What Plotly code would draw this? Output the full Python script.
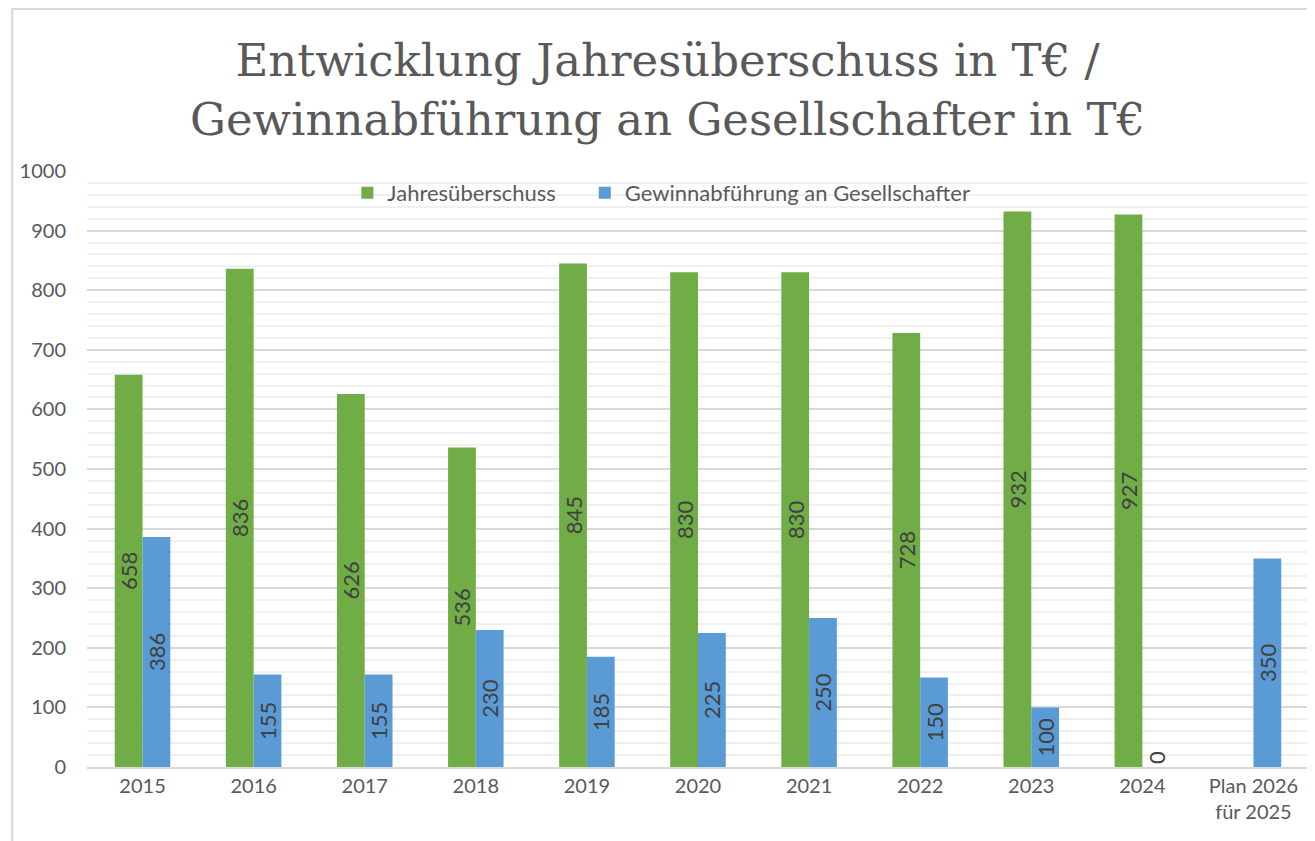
import plotly.graph_objects as go

categories = ["2015", "2016", "2017", "2018", "2019", "2020", "2021", "2022", "2023", "2024", "Plan 2026<br>für 2025"]
jahresueberschuss = [658, 836, 626, 536, 845, 830, 830, 728, 932, 927, None]
gewinnabfuehrung = [386, 155, 155, 230, 185, 225, 250, 150, 100, 0, 350]
y_ticks = [0, 100, 200, 300, 400, 500, 600, 700, 800, 900, 1000]

FONT = "Lato, Open Sans, sans-serif"
label_font = dict(family=FONT, size=22, color="#404040")

def positions(vals):
    return ["outside" if (v is not None and v == 0) else "inside" for v in vals]

def texts(vals):
    return ["" if v is None else str(v) for v in vals]

fig = go.Figure()
fig.add_trace(go.Bar(
    name="Jahresüberschuss", x=categories, y=jahresueberschuss,
    marker=dict(color="#70ad47", line=dict(width=0)),
    text=texts(jahresueberschuss), textposition=positions(jahresueberschuss),
    textangle=-90, insidetextanchor="middle", textfont=label_font,
    outsidetextfont=label_font, insidetextfont=label_font, cliponaxis=False,
    legend="legend", showlegend=True,
))
fig.add_trace(go.Bar(
    name="Gewinnabführung an Gesellschafter", x=categories, y=gewinnabfuehrung,
    marker=dict(color="#5b9bd5", line=dict(width=0)),
    text=texts(gewinnabfuehrung), textposition=positions(gewinnabfuehrung),
    textangle=-90, insidetextanchor="middle", textfont=label_font,
    outsidetextfont=label_font, insidetextfont=label_font, cliponaxis=False,
    legend="legend2", showlegend=True,
))

# page is rendered with an 8px body offset
OFF = 8
W, H = 1315, 841
ml, mr, mt, mb = 84 - OFF, 14, 171 - OFF, 841 - (767 - OFF)
pw, ph = W - ml - mr, H - mt - mb

def px_to_paper_x(px):
    return (px - OFF - ml) / pw

def px_to_paper_y(py):
    return (H - mb - (py - OFF)) / ph

legend_style = dict(
    orientation="h", xanchor="left", y=px_to_paper_y(193), yanchor="middle",
    font=dict(family=FONT, size=22, color="#595959"),
    bgcolor="rgba(255,255,255,0)", visible=True,
)

fig.update_layout(
    width=W, height=H, showlegend=True,
    margin=dict(l=ml, r=mr, t=mt, b=mb, pad=0),
    paper_bgcolor="white", plot_bgcolor="white",
    barmode="group", bargap=0.5, bargroupgap=0,
    uniformtext=dict(minsize=22, mode="show"),
    title=dict(
        text="Entwicklung Jahresüberschuss in T€ /<br>Gewinnabführung an Gesellschafter in T€",
        x=px_to_paper_x(666), xref="paper", xanchor="center",
        y=(H - (76 - OFF)) / H, yref="container", yanchor="middle",
        font=dict(family="DejaVu Serif, serif", size=45, color="#595959"),
    ),
    legend=dict(x=px_to_paper_x(345), **legend_style),
    legend2=dict(x=px_to_paper_x(583), **legend_style),
    xaxis=dict(
        showgrid=False, showline=True, linecolor="#d9d9d9", linewidth=2,
        ticks="", tickfont=dict(family=FONT, size=20, color="#595959"),
    ),
    yaxis=dict(
        range=[0, 1000], tickvals=y_ticks, showline=False, zeroline=False,
        gridcolor="#d9d9d9", gridwidth=2,
        minor=dict(dtick=20, showgrid=True, gridcolor="#f0f0f0", gridwidth=2),
        ticks="", ticklabelstandoff=20,
        tickfont=dict(family=FONT, size=20, color="#595959"),
    ),
    shapes=[dict(
        type="rect", xref="paper", yref="paper",
        x0=px_to_paper_x(9), x1=px_to_paper_x(1308),
        y0=px_to_paper_y(860), y1=px_to_paper_y(9),
        line=dict(color="#d9d9d9", width=2), fillcolor="rgba(0,0,0,0)", layer="below",
    )],
)

fig.write_html("out.html")
